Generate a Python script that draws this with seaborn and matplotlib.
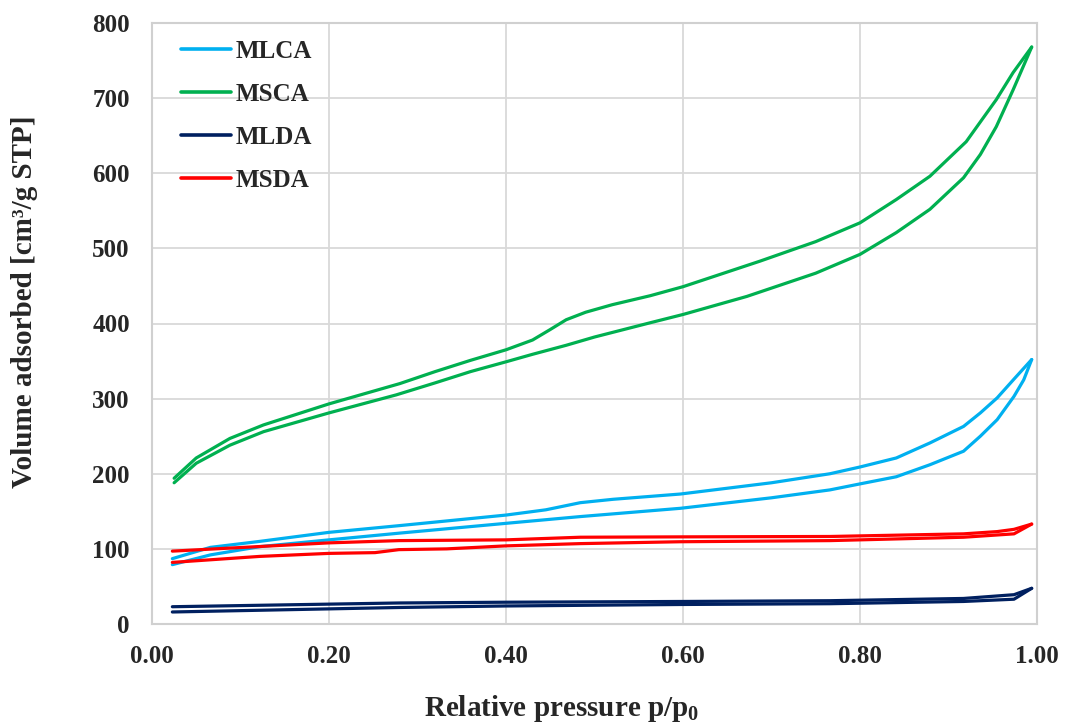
import numpy as np
import pandas as pd
import matplotlib
matplotlib.use("Agg")
import matplotlib.pyplot as plt
import seaborn as sns

# ---------------- data ----------------
samples = ["MLCA", "MSCA", "MLDA", "MSDA"]
colors = ["#00B0F0", "#00B050", "#002060", "#FF0000"]

# MSCA
msca_ads_p = [0.025, 0.05, 0.088, 0.126, 0.2, 0.276, 0.32, 0.36, 0.4, 0.43, 0.468, 0.5, 0.563, 0.6, 0.672, 0.75, 0.8, 0.841, 0.879, 0.917, 0.936, 0.954, 0.973, 0.994]
msca_ads_v = [188, 214, 238, 256, 281, 305, 321, 336, 349, 359, 371, 382, 401, 412, 436, 467, 492, 521, 552, 594, 625, 662, 711, 768]
msca_des_p = [0.994, 0.973, 0.954, 0.92, 0.879, 0.841, 0.8, 0.75, 0.687, 0.6, 0.563, 0.52, 0.49, 0.468, 0.45, 0.43, 0.4, 0.36, 0.32, 0.28, 0.2, 0.126, 0.088, 0.05, 0.025]
msca_des_v = [768, 734, 698, 642, 596, 565, 534, 509, 483, 449, 437, 425, 415, 405, 392, 378, 365, 351, 336, 320, 293, 265, 247, 221, 194]

# MLCA
mlca_ads_p = [0.023, 0.066, 0.122, 0.2, 0.28, 0.4, 0.484, 0.597, 0.7, 0.766, 0.8, 0.841, 0.879, 0.917, 0.936, 0.955, 0.974, 0.985, 0.994]
mlca_ads_v = [79, 92, 103, 112, 121, 134, 143, 154, 168, 178.5, 186.5, 196, 212, 230, 250, 272, 303, 325, 352]
mlca_des_p = [0.994, 0.974, 0.955, 0.936, 0.917, 0.879, 0.841, 0.8, 0.766, 0.7, 0.597, 0.521, 0.484, 0.445, 0.4, 0.28, 0.2, 0.122, 0.066, 0.023]
mlca_des_v = [352, 326, 301, 281, 263, 241, 221, 209, 200, 188, 173, 166, 161.5, 152, 145, 131, 122, 110, 102, 87]

# MLDA
mlda_ads_p = [0.023, 0.28, 0.4, 0.6, 0.766, 0.917, 0.974, 0.994]
mlda_ads_v = [16, 22, 24, 26, 27, 30, 33, 47.5]
mlda_des_p = [0.994, 0.974, 0.917, 0.766, 0.6, 0.4, 0.28, 0.023]
mlda_des_v = [47.5, 39, 34, 31, 30, 29, 28, 23]

# MSDA
msda_ads_p = [0.023, 0.122, 0.2, 0.252, 0.279, 0.333, 0.4, 0.484, 0.597, 0.766, 0.917, 0.974, 0.994]
msda_ads_v = [82, 90, 94, 95, 99, 100, 104, 107, 109.5, 111, 115.5, 120, 133]
msda_des_p = [0.994, 0.974, 0.955, 0.917, 0.766, 0.6, 0.484, 0.4, 0.279, 0.2, 0.023]
msda_des_v = [133, 126, 123, 120, 116.5, 116, 115.5, 112, 111, 108, 97]

x_ticks = [0.0, 0.2, 0.4, 0.6, 0.8, 1.0]
x_ticklabels = ["0.00", "0.20", "0.40", "0.60", "0.80", "1.00"]
y_ticks = [0, 100, 200, 300, 400, 500, 600, 700, 800]

# ---------------- build long table ----------------
branches = {
    "MLCA": [(mlca_ads_p, mlca_ads_v), (mlca_des_p, mlca_des_v)],
    "MSCA": [(msca_ads_p, msca_ads_v), (msca_des_p, msca_des_v)],
    "MLDA": [(mlda_ads_p, mlda_ads_v), (mlda_des_p, mlda_des_v)],
    "MSDA": [(msda_ads_p, msda_ads_v), (msda_des_p, msda_des_v)],
}
rows = []
for s in samples:
    for bname, (pp, vv) in zip(["ads", "des"], branches[s]):
        for order, (p, v) in enumerate(zip(pp, vv)):
            rows.append({"p": p, "v": v, "sample": s, "branch": bname, "order": order})
df = pd.DataFrame(rows)

# ---------------- style ----------------
sns.set_theme(style="whitegrid")
plt.rcParams["font.family"] = ["Liberation Serif", "DejaVu Serif"]
plt.rcParams["font.weight"] = "bold"
plt.rcParams["mathtext.fontset"] = "custom"
plt.rcParams["mathtext.rm"] = "Liberation Serif:bold"
plt.rcParams["mathtext.it"] = "Liberation Serif:bold"
plt.rcParams["mathtext.bf"] = "Liberation Serif:bold"

fig = plt.figure(figsize=(10.65, 7.23), dpi=100)
ax = fig.add_axes([152 / 1065, 1 - 624 / 723, (1037 - 152) / 1065, (624 - 23) / 723])

sns.lineplot(data=df, x="p", y="v", hue="sample", units="branch", estimator=None,
             sort=False, hue_order=samples, palette=colors, linewidth=2.3, ax=ax)

ax.set_xlim(0, 1.0)
ax.set_ylim(0, 800)
ax.set_xticks(x_ticks)
ax.set_xticklabels(x_ticklabels)
ax.set_yticks(y_ticks)
ax.grid(True, color="#d9d9d9", linewidth=1.3)
for sp in ax.spines.values():
    sp.set_color("#d0d0d0")
    sp.set_linewidth(1.5)
ax.tick_params(axis="both", length=0, labelsize=18)
ax.tick_params(axis="x", pad=15)
ax.tick_params(axis="y", pad=16)
for lab in ax.get_xticklabels() + ax.get_yticklabels():
    lab.set_fontweight("bold")

ax.set_xlabel(r"Relative pressure p/p$_0$", fontsize=21, fontweight="bold")
ax.set_ylabel("Volume adsorbed [cm³/g STP]", fontsize=21, fontweight="bold")
ax.xaxis.set_label_coords((562 - 152) / 885, (624 - 708) / 601)
ax.xaxis.label.set_va("center")
ax.yaxis.set_label_coords((25 - 152) / 885, (624 - 302) / 601)
ax.yaxis.label.set_va("center")

handles, labels = ax.get_legend_handles_labels()
leg = ax.legend(handles, labels, loc="upper left", bbox_to_anchor=(0.033, 0.972),
                frameon=False, fontsize=18, handlelength=2.0, handletextpad=0.18,
                labelspacing=0.80, borderpad=0, borderaxespad=0)
for t in leg.get_texts():
    t.set_fontweight("bold")
for h in leg.get_lines():
    h.set_linewidth(2.6)

fig.savefig("out.png", dpi=100)
